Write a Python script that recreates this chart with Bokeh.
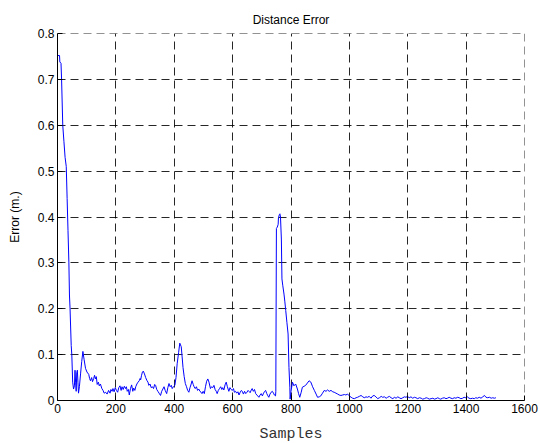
from bokeh.plotting import figure
from bokeh.models import Range1d, FixedTicker, Span
from bokeh.embed import file_html
from bokeh.resources import INLINE

title_text = "Distance Error"
x_label = "Samples"
y_label = "Error (m.)"
x_ticks = [0, 200, 400, 600, 800, 1000, 1200, 1400, 1600]
y_ticks = [0, 0.1, 0.2, 0.3, 0.4, 0.5, 0.6, 0.7, 0.8]

samples = [
    0, 7, 8, 12, 14, 18, 22, 26, 30, 33,
    36, 39, 41, 43, 47, 49, 52, 55, 58, 60,
    62, 64, 66, 68, 70, 72, 75, 79, 83, 87,
    91, 96, 101, 107, 110, 113, 117, 120, 124, 127,
    130, 133, 136, 140, 143, 147, 152, 156, 160, 165,
    170, 175, 180, 183, 187, 190, 194, 198, 202, 206,
    210, 214, 218, 221, 225, 229, 233, 236, 239, 243,
    246, 250, 254, 258, 261, 265, 268, 272, 276, 280,
    283, 285, 288, 291, 294, 298, 302, 306, 310, 313,
    317, 321, 325, 329, 333, 336, 340, 344, 348, 353,
    357, 361, 365, 369, 374, 378, 382, 386, 390, 393,
    397, 402, 406, 410, 415, 419, 424, 427, 430, 434,
    438, 442, 446, 450, 454, 458, 461, 465, 468, 472,
    476, 480, 484, 488, 492, 495, 499, 503, 507, 511,
    515, 519, 524, 528, 532, 536, 540, 544, 547, 551,
    555, 559, 563, 566, 570, 574, 578, 582, 587, 591,
    595, 599, 603, 606, 610, 614, 618, 622, 626, 630,
    633, 637, 641, 645, 649, 653, 656, 660, 664, 667,
    671, 675, 679, 683, 686, 690, 694, 698, 702, 706,
    710, 713, 717, 721, 724, 728, 732, 736, 740, 743,
    747, 748, 750, 753, 756, 757, 760, 762, 764, 767,
    769, 772, 776, 779, 782, 786, 790, 793, 796, 797,
    800, 805, 810, 816, 822, 826, 830, 835, 839, 845,
    850, 856, 862, 868, 874, 880, 886, 891, 897, 902,
    908, 914, 920, 925, 931, 937, 943, 948, 954, 960,
    965, 971, 977, 983, 988, 994, 1000, 1006, 1011, 1017,
    1023, 1028, 1034, 1040, 1046, 1051, 1057, 1062, 1068, 1074,
    1080, 1085, 1091, 1097, 1103, 1109, 1114, 1120, 1126, 1131,
    1137, 1143, 1149, 1154, 1160, 1166, 1171, 1177, 1183, 1189,
    1194, 1199, 1205, 1211, 1217, 1223, 1228, 1234, 1240, 1246,
    1251, 1257, 1263, 1268, 1274, 1280, 1286, 1291, 1297, 1303,
    1308, 1313, 1319, 1325, 1331, 1336, 1342, 1348, 1354, 1359,
    1365, 1371, 1376, 1382, 1388, 1393, 1399, 1404, 1410, 1416,
    1422, 1428, 1433, 1439, 1445, 1451, 1457, 1463, 1468, 1474,
    1480, 1486, 1491, 1497, 1502,
]

error = [
    0.752, 0.752, 0.738, 0.735, 0.700, 0.600, 0.565, 0.530, 0.510, 0.440,
    0.370, 0.300, 0.230, 0.200, 0.120, 0.100, 0.040, 0.025, 0.032, 0.066,
    0.040, 0.020, 0.060, 0.066, 0.040, 0.016, 0.030, 0.058, 0.085, 0.107,
    0.090, 0.070, 0.062, 0.057, 0.048, 0.043, 0.050, 0.041, 0.048, 0.055,
    0.047, 0.052, 0.035, 0.040, 0.032, 0.036, 0.026, 0.022, 0.016, 0.018,
    0.014, 0.022, 0.016, 0.024, 0.020, 0.026, 0.019, 0.028, 0.022, 0.018,
    0.028, 0.032, 0.022, 0.030, 0.024, 0.031, 0.026, 0.030, 0.020, 0.024,
    0.012, 0.026, 0.034, 0.020, 0.027, 0.022, 0.030, 0.036, 0.040, 0.043,
    0.048, 0.045, 0.055, 0.062, 0.064, 0.058, 0.050, 0.044, 0.040, 0.033,
    0.036, 0.028, 0.030, 0.026, 0.035, 0.033, 0.024, 0.020, 0.016, 0.011,
    0.020, 0.025, 0.030, 0.022, 0.015, 0.028, 0.037, 0.030, 0.033, 0.026,
    0.030, 0.033, 0.050, 0.080, 0.105, 0.125, 0.117, 0.095, 0.072, 0.052,
    0.037, 0.030, 0.022, 0.018, 0.028, 0.036, 0.043, 0.035, 0.030, 0.026,
    0.030, 0.022, 0.025, 0.020, 0.018, 0.015, 0.020, 0.015, 0.030, 0.042,
    0.047, 0.040, 0.026, 0.030, 0.028, 0.033, 0.024, 0.020, 0.015, 0.022,
    0.026, 0.030, 0.024, 0.028, 0.023, 0.034, 0.040, 0.030, 0.020, 0.028,
    0.024, 0.022, 0.026, 0.018, 0.020, 0.016, 0.019, 0.012, 0.018, 0.022,
    0.020, 0.014, 0.020, 0.015, 0.018, 0.022, 0.020, 0.017, 0.023, 0.026,
    0.020, 0.024, 0.015, 0.012, 0.010, 0.007, 0.012, 0.015, 0.010, 0.016,
    0.020, 0.022, 0.015, 0.010, 0.007, 0.014, 0.018, 0.020, 0.016, 0.012,
    0.010, 0.020, 0.375, 0.378, 0.384, 0.398, 0.405, 0.407, 0.400, 0.352,
    0.265, 0.250, 0.232, 0.215, 0.196, 0.170, 0.145, 0.072, 0.029, 0.003,
    0.020, 0.040, 0.032, 0.036, 0.025, 0.015, 0.007, 0.018, 0.029, 0.031,
    0.033, 0.038, 0.043, 0.040, 0.030, 0.022, 0.014, 0.007, 0.008, 0.010,
    0.016, 0.022, 0.020, 0.023, 0.020, 0.022, 0.019, 0.018, 0.016, 0.014,
    0.012, 0.011, 0.012, 0.013, 0.012, 0.014, 0.010, 0.007, 0.005, 0.004,
    0.006, 0.007, 0.009, 0.011, 0.008, 0.006, 0.008, 0.007, 0.009, 0.005,
    0.010, 0.011, 0.008, 0.004, 0.006, 0.009, 0.007, 0.008, 0.005, 0.007,
    0.009, 0.006, 0.004, 0.007, 0.005, 0.008, 0.006, 0.004, 0.006, 0.008,
    0.007, 0.009, 0.006, 0.008, 0.005, 0.007, 0.006, 0.004, 0.006, 0.005,
    0.003, 0.004, 0.006, 0.005, 0.003, 0.004, 0.005, 0.003, 0.004, 0.006,
    0.004, 0.003, 0.005, 0.006, 0.004, 0.005, 0.007, 0.005, 0.004, 0.006,
    0.005, 0.007, 0.006, 0.004, 0.005, 0.007, 0.006, 0.008, 0.005, 0.004,
    0.005, 0.004, 0.006, 0.005, 0.007, 0.005, 0.008, 0.011, 0.007, 0.006,
    0.007, 0.005, 0.006, 0.005, 0.006,
]

SANS = "Liberation Sans"
DASH = "8 5"

p = figure(
    frame_width=467, frame_height=367,
    min_border_left=57, min_border_right=16,
    min_border_top=33, min_border_bottom=43,
    x_range=Range1d(0, 1600), y_range=Range1d(0, 0.8),
    output_backend="svg", toolbar_location=None,
    background_fill_color="white", border_fill_color="white",
)
p.outline_line_color = None

p.title.text = title_text
p.title.align = "center"
p.title.text_font = SANS
p.title.text_font_size = "12px"
p.title.text_font_style = "normal"
p.title.text_color = "black"
p.title.offset = 0
p.title.standoff = 14

for g, ticks in ((p.xgrid[0], x_ticks), (p.ygrid[0], y_ticks)):
    g.ticker = FixedTicker(ticks=ticks)
    g.grid_line_color = "black"
    g.grid_line_alpha = 0.85
    g.grid_line_dash = DASH
    g.grid_line_width = 1

# dashed grid lines at the top and right edges of the axes
p.add_layout(Span(location=y_ticks[-1], dimension="width", line_color="black",
                  line_alpha=0.85, line_dash=DASH, line_width=1))
p.add_layout(Span(location=x_ticks[-1], dimension="height", line_color="black",
                  line_alpha=0.85, line_dash=DASH, line_width=1))

p.line(samples, error, line_color="#0000ff", line_width=1)

for ax, ticks in ((p.xaxis[0], x_ticks), (p.yaxis[0], y_ticks)):
    ax.ticker = FixedTicker(ticks=ticks)
    ax.minor_tick_line_color = None
    ax.major_tick_in = 5
    ax.major_tick_out = 0
    ax.axis_line_color = "black"
    ax.major_tick_line_color = "black"
    ax.major_label_text_font = SANS
    ax.major_label_text_font_size = "12px"
    ax.major_label_text_color = "black"
    ax.major_label_standoff = 3
    ax.axis_label_text_color = "black"
    ax.axis_label_text_font_style = "normal"

p.xaxis[0].axis_label = x_label
p.xaxis[0].axis_label_text_font = "Liberation Mono"
p.xaxis[0].axis_label_text_font_size = "15px"
p.xaxis[0].axis_label_text_color = "#333333"
p.xaxis[0].axis_label_standoff = 10

p.yaxis[0].axis_label = y_label
p.yaxis[0].axis_label_text_font = SANS
p.yaxis[0].axis_label_text_font_size = "12px"
p.yaxis[0].axis_label_standoff = 13

out = file_html(p, INLINE)
open("out.html", "w").write(out)
